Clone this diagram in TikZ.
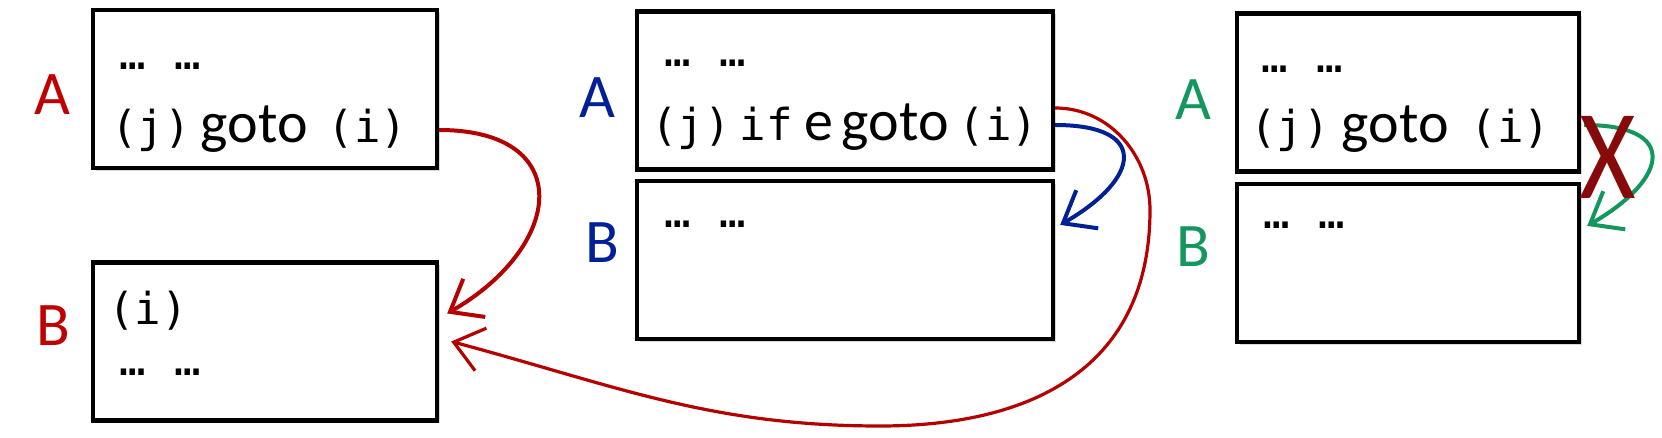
\documentclass[tikz,border=0pt]{standalone}
\usepackage{fontspec}
\usepackage{tikz}
\usetikzlibrary{positioning,arrows.meta,shadows}
\newfontfamily\codefont{DejaVu Sans Mono}
\newfontfamily\wordfont{Carlito}
\newcommand\kwd[1]{{\wordfont\fontsize{29}{29}\selectfont #1}}
\definecolor{labred}{RGB}{192,0,0}
\definecolor{arrred}{RGB}{180,0,0}
\definecolor{labblue}{RGB}{0,32,150}
\definecolor{labgreen}{RGB}{20,150,95}
\definecolor{crossred}{RGB}{135,10,10}

\begin{document}
\begin{tikzpicture}[x=0.5pt, y=-0.5pt,
    blk/.style={draw, line width=2.2pt, fill=white, minimum height=79pt, inner sep=0pt,
      drop shadow={shadow xshift=1.5pt, shadow yshift=-1.5pt, opacity=0.3}},
    lbl/.style={font=\wordfont\fontsize{31}{31}\selectfont, inner sep=0pt},
    code/.style={anchor=base west, inner sep=0pt, font=\codefont\fontsize{22}{26}\selectfont},
    jump/.style={line width=2pt, -{Straight Barb[length=14pt, width=22pt]}}]
    \useasboundingbox (0,0) rectangle (1662,438);

    % Blocks
    \node[blk, minimum width=172pt] (a1) at (265,89) {};
    \node[blk, minimum width=172pt] (b1) at (265,341.5) {};
    \node[blk, minimum width=208pt] (a2) at (845,90.5) {};
    \node[blk, minimum width=208pt, below=3.5pt of a2] (b2) {};
    \node[blk, minimum width=171pt] (a3) at (1408,92.5) {};
    \node[blk, minimum width=171pt, below=4pt of a3] (b3) {};

    % Labels
    \node[lbl, text=labred] (la1) at (52,95) {A};
    \node[lbl, text=labred] (lb1) at (53,326) {B};
    \node[lbl, text=labblue] (la2) at (597,98) {A};
    \node[lbl, text=labblue] (lb2) at (602,243) {B};
    \node[lbl, text=labgreen] (la3) at (1193,100) {A};
    \node[lbl, text=labgreen] (lb3) at (1193,247) {B};

    % Code
    \node[code] (a1dots) at (119,70) {…\hspace{1pt} …};
    \node[code] (a1line) at (111,143) {(j)\hspace{5pt}\kwd{goto}\hspace{10pt}(i)};
    \node[code] (b1line) at (108,325) {(i)};
    \node[code] (b1dots) at (119,376) {…\hspace{1pt} …};
    \node[code] (a2dots) at (664,67) {…\hspace{1pt} …};
    \node[code] (a2line) at (651,141) {(j)\hspace{4.5pt}if\hspace{6pt}\kwd{e}\hspace{4pt}\kwd{goto}\hspace{5pt}(i)};
    \node[code] (b2dots) at (664,228) {…\hspace{1pt} …};
    \node[code] (a3dots) at (1261,73) {…\hspace{1pt} …};
    \node[code] (a3line) at (1250,143) {(j)\hspace{6pt}\kwd{goto}\hspace{11pt}(i)};
    \node[code] (b3dots) at (1263,229) {…\hspace{1pt} …};

    % Jumps
    \coordinate (bend1) at (1150,210);
    \coordinate (bend2) at (880,426);
    \draw[jump, arrred] ([yshift=-20.5pt]a1.east) to[out=0, in=30, looseness=1.9] ([xshift=4pt, yshift=14pt]b1.east);
    \draw[jump, arrred, line width=1.6pt] ([yshift=-8.75pt]a2.east) to[out=0, in=90] (bend1)
        to[out=-90, in=0, looseness=1.15] (bend2) to[out=180, in=-15] ([xshift=6pt]b1.east);
    \draw[jump, labblue] ([yshift=-17.25pt]a2.east) to[out=0, in=30, looseness=2.4] ([xshift=2.5pt, yshift=17.5pt]b2.east);
    \draw[jump, labgreen] ([xshift=1.5pt, yshift=-16.25pt]a3.east) to[out=0, in=30, looseness=2.4] ([xshift=3pt, yshift=18.5pt]b3.east);

    % No jump
    \node[text=crossred, font=\wordfont\fontsize{64}{64}\selectfont, inner sep=0pt] (cross) at (1608,157) {\scalebox{0.85}[1]{X}};
\end{tikzpicture}
\end{document}
